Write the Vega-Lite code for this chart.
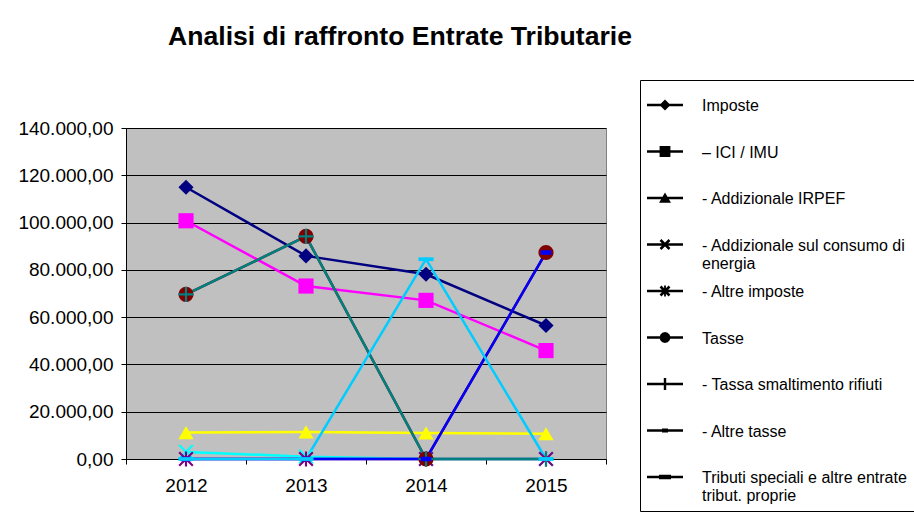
{
  "$schema": "https://vega.github.io/schema/vega-lite/v6.json",
  "width": 480,
  "height": 331,
  "autosize": {"type": "none"},
  "padding": {"left": 126, "top": 128, "right": 308, "bottom": 67},
  "background": "white",
  "title": {
    "text": "Analisi di raffronto Entrate Tributarie",
    "font": "Liberation Sans",
    "fontSize": 26.6,
    "fontWeight": "bold",
    "color": "black",
    "anchor": "middle",
    "frame": "group",
    "dx": 34,
    "offset": 29
  },
  "config": {
    "locale": {"number": {"decimal": ",", "thousands": ".", "grouping": [3], "currency": ["", " €"]}},
    "view": {"fill": "#C0C0C0", "stroke": "#808080", "strokeWidth": 1},
    "axis": {"labelFont": "Liberation Sans", "labelColor": "black", "labelFontSize": 19, "domainColor": "black", "tickColor": "black", "tickSize": 5, "title": null}
  },
  "data": {
    "values": [
      {"anno": "2012", "voce": "Imposte", "valore": 114950},
      {"anno": "2013", "voce": "Imposte", "valore": 85900},
      {"anno": "2014", "voce": "Imposte", "valore": 78130},
      {"anno": "2015", "voce": "Imposte", "valore": 56470},
      {"anno": "2012", "voce": "– ICI / IMU", "valore": 100760},
      {"anno": "2013", "voce": "– ICI / IMU", "valore": 73160},
      {"anno": "2014", "voce": "– ICI / IMU", "valore": 67090},
      {"anno": "2015", "voce": "– ICI / IMU", "valore": 45860},
      {"anno": "2012", "voce": "- Addizionale IRPEF", "valore": 11170},
      {"anno": "2013", "voce": "- Addizionale IRPEF", "valore": 11460},
      {"anno": "2014", "voce": "- Addizionale IRPEF", "valore": 11000},
      {"anno": "2015", "voce": "- Addizionale IRPEF", "valore": 10700},
      {"anno": "2012", "voce": "- Addizionale sul consumo di energia", "valore": 3000},
      {"anno": "2013", "voce": "- Addizionale sul consumo di energia", "valore": 1000},
      {"anno": "2014", "voce": "- Addizionale sul consumo di energia", "valore": 0},
      {"anno": "2015", "voce": "- Addizionale sul consumo di energia", "valore": 0},
      {"anno": "2012", "voce": "- Altre imposte", "valore": 0},
      {"anno": "2013", "voce": "- Altre imposte", "valore": 0},
      {"anno": "2014", "voce": "- Altre imposte", "valore": 0},
      {"anno": "2015", "voce": "- Altre imposte", "valore": 0},
      {"anno": "2012", "voce": "Tasse", "valore": 69640},
      {"anno": "2013", "voce": "Tasse", "valore": 94140},
      {"anno": "2014", "voce": "Tasse", "valore": 0},
      {"anno": "2015", "voce": "Tasse", "valore": 87340},
      {"anno": "2012", "voce": "- Tassa smaltimento rifiuti", "valore": 69640},
      {"anno": "2013", "voce": "- Tassa smaltimento rifiuti", "valore": 94140},
      {"anno": "2014", "voce": "- Tassa smaltimento rifiuti", "valore": 0},
      {"anno": "2015", "voce": "- Tassa smaltimento rifiuti", "valore": 0},
      {"anno": "2012", "voce": "- Altre tasse", "valore": 0},
      {"anno": "2013", "voce": "- Altre tasse", "valore": 0},
      {"anno": "2014", "voce": "- Altre tasse", "valore": 0},
      {"anno": "2015", "voce": "- Altre tasse", "valore": 87340},
      {"anno": "2012", "voce": "Tributi speciali e altre entrate tribut. proprie", "valore": 0},
      {"anno": "2013", "voce": "Tributi speciali e altre entrate tribut. proprie", "valore": 0},
      {"anno": "2014", "voce": "Tributi speciali e altre entrate tribut. proprie", "valore": 84500},
      {"anno": "2015", "voce": "Tributi speciali e altre entrate tribut. proprie", "valore": 0}
    ]
  },
  "encoding": {
    "x": {
      "field": "anno", "type": "ordinal",
      "scale": {"type": "band", "paddingInner": 0, "paddingOuter": 0},
      "bandPosition": 0.5,
      "axis": {"tickBand": "extent", "labelAngle": 0, "labelPadding": 12, "grid": false}
    },
    "y": {
      "field": "valore", "type": "quantitative",
      "scale": {"domain": [0, 140000], "nice": false},
      "axis": {"values": [0, 20000, 40000, 60000, 80000, 100000, 120000, 140000], "format": ",.2f", "labelPadding": 8, "grid": true, "gridColor": "black", "gridOpacity": 1, "gridWidth": 1}
    }
  },
  "resolve": {"scale": {"shape": "independent"}},
  "layer": [
    {
      "mark": {"type": "line", "strokeWidth": 2.5},
      "encoding": {
        "stroke": {
          "field": "voce", "type": "nominal", "legend": null,
          "scale": {
            "domain": ["Imposte", "– ICI / IMU", "- Addizionale IRPEF", "- Addizionale sul consumo di energia", "- Altre imposte", "Tasse", "- Tassa smaltimento rifiuti", "- Altre tasse", "Tributi speciali e altre entrate tribut. proprie"],
            "range": ["#000080", "#FF00FF", "#FFFF00", "#00FFFF", "#800080", "#800000", "#008080", "#0000FF", "#00CCFF"]
          }
        }
      }
    },
    {
      "mark": {"type": "point", "filled": true, "size": 230, "opacity": 1, "strokeWidth": 0},
      "encoding": {
        "fill": {
          "field": "voce", "type": "nominal", "legend": null,
          "scale": {
            "domain": ["Imposte", "– ICI / IMU", "- Addizionale IRPEF", "- Addizionale sul consumo di energia", "- Altre imposte", "Tasse", "- Tassa smaltimento rifiuti", "- Altre tasse", "Tributi speciali e altre entrate tribut. proprie"],
            "range": ["#000080", "#FF00FF", "#FFFF00", "#00FFFF", "#800080", "#800000", "#008080", "#0000FF", "#00CCFF"]
          }
        },
        "shape": {
          "field": "voce", "type": "nominal", "legend": null,
          "scale": {
            "domain": ["Imposte", "– ICI / IMU", "- Addizionale IRPEF", "- Addizionale sul consumo di energia", "- Altre imposte", "Tasse", "- Tassa smaltimento rifiuti", "- Altre tasse", "Tributi speciali e altre entrate tribut. proprie"],
            "range": ["diamond", "square", "triangle-up", "M-1,-0.8L-0.8,-1L1,0.8L0.8,1Z M0.8,-1L1,-0.8L-0.8,1L-1,0.8Z", "M-1,-0.8L-0.8,-1L1,0.8L0.8,1Z M0.8,-1L1,-0.8L-0.8,1L-1,0.8Z M-0.14,-1H0.14V1H-0.14Z", "circle", "M-0.14,-1H0.14V1H-0.14Z M-1,-0.14H1V0.14H-1Z", "M-0.7,-0.3H0.7V0.3H-0.7Z", "M-1,-0.25H1V0.25H-1Z"]
          }
        }
      }
    },
    {
      "transform": [{"filter": "datum.valore < 0"}],
      "mark": {"type": "point", "filled": true, "size": 1296, "strokeWidth": 0},
      "encoding": {
        "color": {
          "field": "voce", "type": "nominal",
          "scale": {
            "domain": ["Imposte", "– ICI / IMU", "- Addizionale IRPEF", "- Addizionale sul consumo di energia", "- Altre imposte", "Tasse", "- Tassa smaltimento rifiuti", "- Altre tasse", "Tributi speciali e altre entrate tribut. proprie"],
            "range": ["#000080", "#FF00FF", "#FFFF00", "#00FFFF", "#800080", "#800000", "#008080", "#0000FF", "#00CCFF"]
          },
          "legend": {
            "orient": "none",
            "legendX": 514,
            "legendY": -48,
            "title": null,
            "strokeColor": "black",
            "fillColor": "white",
            "padding": 7,
            "symbolSize": 1296,
            "symbolStrokeWidth": 0,
            "symbolOpacity": 1,
            "labelFont": "Liberation Sans",
            "labelFontSize": 16,
            "labelColor": "black",
            "labelBaseline": "alphabetic",
            "labelOffset": 19,
            "labelLimit": 400,
            "gridAlign": "all",
            "rowPadding": 1.5,
            "labelExpr": "datum.value == '- Addizionale sul consumo di energia' ? ['- Addizionale sul consumo di', 'energia'] : datum.value == 'Tributi speciali e altre entrate tribut. proprie' ? ['Tributi speciali e altre entrate', 'tribut. proprie'] : datum.label",
            "encoding": {"labels": {"dy": {"value": 6}}}
          }
        },
        "shape": {
          "field": "voce", "type": "nominal",
          "scale": {
            "domain": ["Imposte", "– ICI / IMU", "- Addizionale IRPEF", "- Addizionale sul consumo di energia", "- Altre imposte", "Tasse", "- Tassa smaltimento rifiuti", "- Altre tasse", "Tributi speciali e altre entrate tribut. proprie"],
            "range": [
              "M-1,-0.07L1,-0.07L1,0.07L-1,0.07Z M0,-0.305L0.305,0L0,0.305L-0.305,0Z",
              "M-1,-0.07L1,-0.07L1,0.07L-1,0.07Z M-0.3,-0.3L0.3,-0.3L0.3,0.3L-0.3,0.3Z",
              "M-1,-0.07L1,-0.07L1,0.07L-1,0.07Z M0,-0.3L0.33,0.27L-0.33,0.27Z",
              "M-1,-0.07L1,-0.07L1,0.07L-1,0.07Z M-0.3,-0.2L-0.2,-0.3L0.3,0.2L0.2,0.3Z M0.2,-0.3L0.3,-0.2L-0.2,0.3L-0.3,0.2Z",
              "M-1,-0.07L1,-0.07L1,0.07L-1,0.07Z M-0.3,-0.2L-0.2,-0.3L0.3,0.2L0.2,0.3Z M0.2,-0.3L0.3,-0.2L-0.2,0.3L-0.3,0.2Z M-0.05,-0.3L0.05,-0.3L0.05,0.3L-0.05,0.3Z",
              "M-1,-0.07L1,-0.07L1,0.07L-1,0.07Z M0.3,0L0.26,0.15L0.15,0.26L0,0.3L-0.15,0.26L-0.26,0.15L-0.3,0L-0.26,-0.15L-0.15,-0.26L0,-0.3L0.15,-0.26L0.26,-0.15Z",
              "M-1,-0.07L1,-0.07L1,0.07L-1,0.07Z M-0.067,-0.333L0.067,-0.333L0.067,0.333L-0.067,0.333Z",
              "M-1,-0.07L1,-0.07L1,0.07L-1,0.07Z M-0.167,-0.11L0.167,-0.11L0.167,0.11L-0.167,0.11Z",
              "M-1,-0.07L1,-0.07L1,0.07L-1,0.07Z M-0.333,-0.13L0.333,-0.13L0.333,0.13L-0.333,0.13Z"
            ]
          },
          "legend": {
            "orient": "none",
            "legendX": 514,
            "legendY": -48,
            "title": null,
            "strokeColor": "black",
            "fillColor": "white",
            "padding": 7,
            "symbolSize": 1296,
            "symbolStrokeWidth": 0,
            "symbolOpacity": 1,
            "labelFont": "Liberation Sans",
            "labelFontSize": 16,
            "labelColor": "black",
            "labelBaseline": "alphabetic",
            "labelOffset": 19,
            "labelLimit": 400,
            "gridAlign": "all",
            "rowPadding": 1.5,
            "labelExpr": "datum.value == '- Addizionale sul consumo di energia' ? ['- Addizionale sul consumo di', 'energia'] : datum.value == 'Tributi speciali e altre entrate tribut. proprie' ? ['Tributi speciali e altre entrate', 'tribut. proprie'] : datum.label",
            "encoding": {"labels": {"dy": {"value": 6}}}
          }
        }
      }
    }
  ]
}
